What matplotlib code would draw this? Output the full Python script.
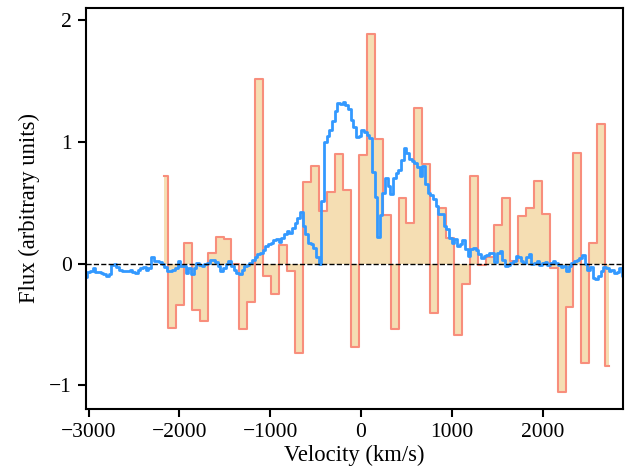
import numpy as np
import matplotlib
matplotlib.use('Agg')
import matplotlib.pyplot as plt

plt.rcParams['font.family'] = ['Liberation Serif', 'DejaVu Serif']
plt.rcParams['font.size'] = 15.5

# binned spectrum (orange), velocity centres in km/s
v_bin = np.linspace(-2170, 2735, 57)
f_bin = [0.72, -0.53, -0.34, 0.17, -0.385, -0.47, 0.09, 0.22, 0.20, 0.0,
         -0.535, -0.32, 1.52, -0.10, -0.25, 0.15, -0.06, -0.735, 0.67, 0.80,
         0.43, 0.59, 0.90, 0.60, -0.69, 0.89, 1.89, 1.02, 0.40, -0.535,
         0.54, 0.33, 1.28, 0.82, -0.41, 0.46, 0.21, -0.59, -0.17, 0.72,
         -0.01, 0.05, 0.32, 0.535, 0.02, 0.39, 0.46, 0.68, 0.41, -0.04,
         -1.055, -0.36, 0.91, -0.82, 0.17, 1.15, -0.84]

# fine spectrum (blue)
f_fine = [-0.11, -0.07, -0.06, -0.04, -0.07, -0.07, -0.08, -0.09, -0.10, -0.09,
          -0.01, 0.0, -0.03, -0.05, -0.06, -0.06, -0.06, -0.05, -0.07, -0.08,
          -0.05, -0.04, -0.03, -0.05, -0.04, 0.05, 0.02, 0.02, 0.01, 0.0,
          -0.03, -0.06, -0.06, -0.05, -0.04, 0.02,
          -0.02, -0.02, -0.08, -0.04, -0.09, -0.04, 0.005, -0.01, -0.02, 0.0,
          0.005, 0.03, 0.03, 0.01, -0.02, -0.06, -0.04, 0.0, 0.02, -0.02,
          -0.055, -0.08, -0.09, -0.05, -0.02, -0.01, 0.005, 0.03, 0.05, 0.075,
          0.09, 0.115, 0.14, 0.16, 0.17, 0.19,
          0.20, 0.175, 0.21, 0.24, 0.27, 0.25, 0.29, 0.33, 0.37, 0.42,
          0.31, 0.24, 0.17, 0.16, 0.13, 0.05, 0.0, 0.51, 1.0, 1.05,
          1.1, 1.17, 1.25, 1.32, 1.31, 1.33,
          1.30, 1.27, 1.18, 1.12, 1.04, 1.05, 1.10, 1.08, 1.06, 1.03,
          0.75, 0.55, 0.22, 0.40, 0.58, 0.70, 0.64, 0.57, 0.70, 0.74,
          0.77, 0.85, 0.95, 0.91, 0.86,
          0.84, 0.83, 0.79, 0.72, 0.80, 0.65, 0.58, 0.56, 0.53, 0.47,
          0.41, 0.41, 0.31, 0.28, 0.21, 0.17, 0.20, 0.14, 0.16, 0.19,
          0.12, 0.065, 0.12, 0.13, 0.11, 0.08, 0.045, 0.065, 0.07, 0.085,
          0.09, 0.015,
          0.09, 0.10, 0.03, -0.02, -0.01, 0.005, 0.02, 0.06, 0.05, 0.02,
          0.005, 0.05, 0.08, -0.005, 0.005, 0.02, -0.01, 0.005, 0.01, -0.016,
          0.005, 0.02, 0.005, -0.01, -0.03, -0.02, -0.06, -0.02, 0.005, 0.02,
          0.03, 0.045, 0.07, 0.0, -0.05, -0.03, -0.12, -0.13, -0.10, -0.06,
          -0.03, -0.04, -0.06, -0.05, -0.08, -0.07, -0.04, -0.10]
v_fine = np.linspace(-3029, 2889, len(f_fine))

fig = plt.figure(figsize=(6.27, 4.70), dpi=100)
ax = fig.add_axes([0.137, 0.13, 0.857, 0.853])

ax.fill_between(v_bin, f_bin, step='mid', color='#f5deb3', lw=0)
ax.step(v_bin, f_bin, where='mid', color='#f88e7c', lw=1.5)
ax.step(v_fine, f_fine, where='mid', color='#3399ff', lw=2)
ax.axhline(0, color='k', ls='--', lw=1, zorder=5)

ax.set_xlim(v_fine[0], v_fine[-1])
ax.set_ylim(-1.195, 2.10)
ax.set_xticks([-3000, -2000, -1000, 0, 1000, 2000])
ax.set_yticks([-1, 0, 1, 2])
ax.tick_params(direction='out', length=6, width=1.5, labelsize=15.5, pad=4)
for s in ax.spines.values():
    s.set_linewidth(1.5)

ax.set_xlabel('Velocity (km/s)', fontsize=16.3, labelpad=2)
ax.set_ylabel('Flux (arbitrary units)', fontsize=16.3, labelpad=7)

fig.savefig('out.png', dpi=100)
